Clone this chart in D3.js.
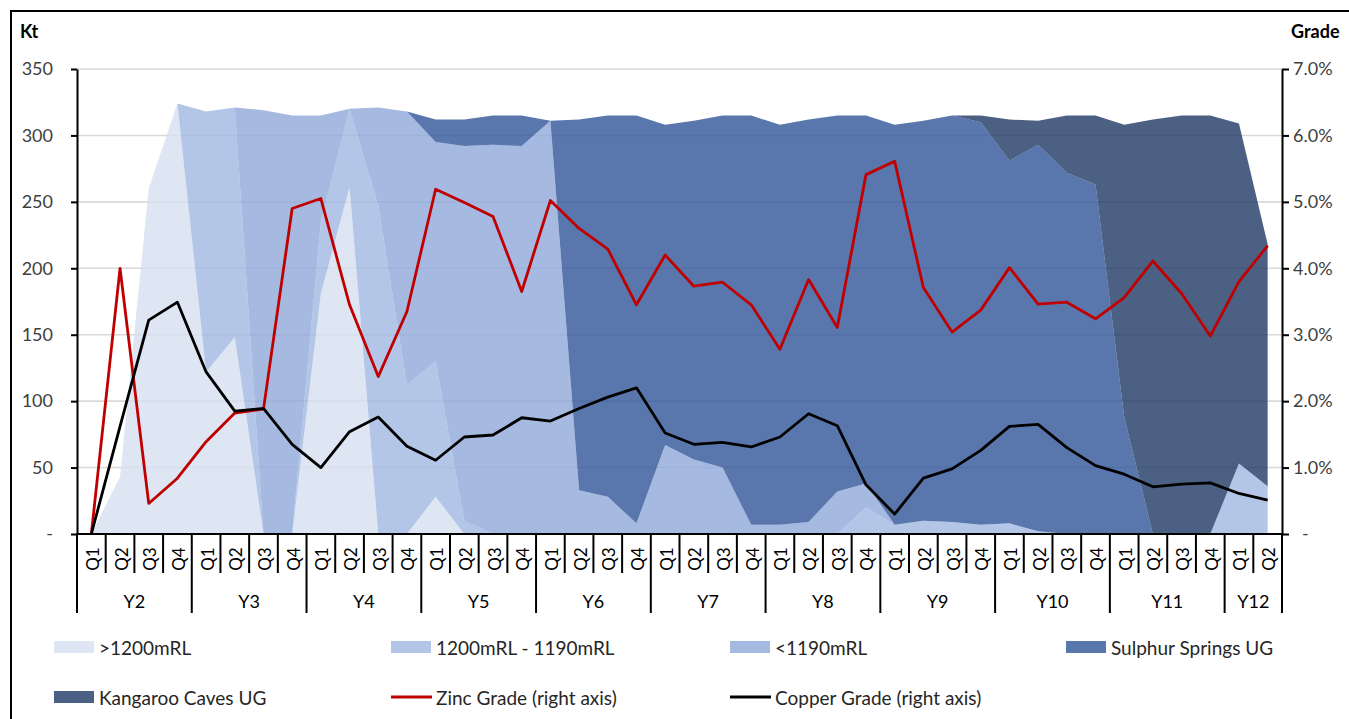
<!DOCTYPE html>
<html><head><meta charset="utf-8">
<script src="https://cdn.jsdelivr.net/npm/d3@7"></script>
<style>
html,body{margin:0;padding:0;background:#fff;}
svg{display:block;font-family:Lato,"Open Sans",sans-serif;}
</style>
</head><body>
<svg id="chart" width="1349" height="719"></svg>
<script>
// ---------- DATA ----------
const quarterLabels = ["Q1","Q2","Q3","Q4","Q1","Q2","Q3","Q4","Q1","Q2","Q3","Q4",
  "Q1","Q2","Q3","Q4","Q1","Q2","Q3","Q4","Q1","Q2","Q3","Q4","Q1","Q2","Q3","Q4",
  "Q1","Q2","Q3","Q4","Q1","Q2","Q3","Q4","Q1","Q2","Q3","Q4","Q1","Q2"];
const yearLabels = ["Y2","Y3","Y4","Y5","Y6","Y7","Y8","Y9","Y10","Y11","Y12"];
const yearQuarterCounts = [4,4,4,4,4,4,4,4,4,4,2];

// Kt series (stacked areas, bottom to top)
const above1200 = [0,43,260,324,122,148,0,0,181,261,0,0,28,0,0,0,0,0,0,0,0,0,0,0,0,0,0,0,0,0,0,0,0,0,0,0,0,0,0,0,0,0];
const between1200_1190 = [0,0,0,0,196,173,0,0,54,59,247,112,102,10,0,0,0,0,0,0,0,0,0,0,0,0,0,20,7,10,9,7,8,2,0,0,0,0,0,0,53,36];
const below1190 = [0,0,0,0,0,0,319,315,80,0,74,206,165,282,293,292,311,33,28,8,67,56,50,7,7,9,32,18,0,0,0,0,0,0,0,0,0,0,0,0,0,0];
const sulphurSprings = [0,0,0,0,0,0,0,0,0,0,0,0,17,20,22,23,0,279,287,307,241,255,265,308,301,303,283,277,301,301,306,303,273,291,272,263,88,0,0,0,0,0];
const kangarooCaves = [0,0,0,0,0,0,0,0,0,0,0,0,0,0,0,0,0,0,0,0,0,0,0,0,0,0,0,0,0,0,0,5,31,18,43,52,220,312,315,315,256,182];

// Grades (%), right axis
const zincGrade = [0,4.00,0.46,0.84,1.39,1.82,1.88,4.90,5.05,3.45,2.37,3.35,5.19,4.99,4.78,3.65,5.02,4.60,4.29,3.45,4.20,3.73,3.79,3.45,2.78,3.83,3.11,5.41,5.61,3.71,3.04,3.37,4.01,3.46,3.49,3.24,3.56,4.11,3.62,2.98,3.80,4.34];
const copperGrade = [0,1.62,3.22,3.49,2.44,1.85,1.89,1.35,1.00,1.54,1.76,1.32,1.11,1.46,1.49,1.75,1.70,1.89,2.06,2.20,1.52,1.35,1.38,1.31,1.46,1.81,1.63,0.74,0.30,0.84,0.98,1.26,1.62,1.65,1.30,1.03,0.90,0.71,0.75,0.77,0.61,0.51];

const ktTicks = [0,50,100,150,200,250,300,350];
const gradeTicks = [0,1,2,3,4,5,6,7];

const seriesNames = [">1200mRL","1200mRL - 1190mRL","<1190mRL","Sulphur Springs UG","Kangaroo Caves UG"];
const seriesColors = ["#D6E0F0","#A1B8E1","#8FA8D9","#2F5597","#1F3864"];
const lineNames = ["Zinc Grade (right axis)","Copper Grade (right axis)"];
const lineColors = ["#C00000","#000000"];

// ---------- CHART ----------
const svg = d3.select("#chart");
const L = 77, R = 1282, T = 69, B = 534;
const n = quarterLabels.length;

const x = d3.scaleBand().domain(d3.range(n)).range([L, R]).padding(0);
const bw = x.bandwidth();
const cx = i => x(i) + bw / 2;
const yL = d3.scaleLinear().domain([0, 350]).range([B, T]);
const yR = d3.scaleLinear().domain([0, 7]).range([B, T]);

// outer frame
svg.append("rect").attr("x", 11).attr("y", 11).attr("width", 1360).attr("height", 730)
  .attr("fill", "none").attr("stroke", "#000").attr("stroke-width", 2);

// gridlines
svg.append("g").selectAll("line").data(ktTicks.filter(d => d > 0)).join("line")
  .attr("x1", L).attr("x2", R).attr("y1", d => yL(d)).attr("y2", d => yL(d))
  .attr("stroke", "#d9d9d9").attr("stroke-width", 1.6);

// stacked areas
const table = d3.range(n).map(i => ({
  i,
  [seriesNames[0]]: above1200[i],
  [seriesNames[1]]: between1200_1190[i],
  [seriesNames[2]]: below1190[i],
  [seriesNames[3]]: sulphurSprings[i],
  [seriesNames[4]]: kangarooCaves[i]
}));
const stacked = d3.stack().keys(seriesNames)(table);
const area = d3.area().x(d => cx(d.data.i)).y0(d => yL(d[0])).y1(d => yL(d[1]));
svg.append("g").selectAll("path").data(stacked).join("path")
  .attr("d", area).attr("fill", (d, k) => seriesColors[k]).attr("fill-opacity", 0.8);

// lines
const line = d3.line().x((d, i) => cx(i)).y(d => yR(d));
[zincGrade, copperGrade].forEach((arr, k) => {
  svg.append("path").datum(arr).attr("d", line).attr("fill", "none")
    .attr("stroke", lineColors[k]).attr("stroke-width", 2.8).attr("stroke-linejoin", "round");
});

// left axis
const axL = svg.append("g").attr("transform", `translate(${L},0)`)
  .call(d3.axisLeft(yL).tickValues(ktTicks).tickSize(6).tickSizeOuter(0).tickPadding(18)
    .tickFormat(d => d === 0 ? "-" : d));
// right axis
const axR = svg.append("g").attr("transform", `translate(${R},0)`)
  .call(d3.axisRight(yR).tickValues(gradeTicks).tickSize(7).tickSizeOuter(0).tickPadding(4)
    .tickFormat(d => d === 0 ? "-" : d.toFixed(1) + "%"));
[axL, axR].forEach(ax => {
  ax.select(".domain").attr("stroke", "#000").attr("stroke-width", 2);
  ax.selectAll(".tick line").attr("stroke", "#000").attr("stroke-width", 2);
  ax.selectAll(".tick text").attr("fill", "#404040").attr("font-size", 18)
    .attr("font-family", "Lato, 'Open Sans', sans-serif");
});
axR.selectAll(".tick text").filter(d => d === 0).attr("x", 20);

// axis titles
svg.append("text").attr("x", 20).attr("y", 38).attr("font-size", 18).attr("font-weight", "bold")
  .attr("fill", "#000").text("Kt");
svg.append("text").attr("x", 1291).attr("y", 38).attr("font-size", 18).attr("font-weight", "bold")
  .attr("fill", "#000").text("Grade");

// category axis
const gx = svg.append("g");
gx.append("line").attr("x1", L - 1).attr("x2", R + 1).attr("y1", B).attr("y2", B)
  .attr("stroke", "#000").attr("stroke-width", 2);
const yearBounds = [0];
yearQuarterCounts.forEach(c => yearBounds.push(yearBounds[yearBounds.length - 1] + c));
gx.selectAll("line.sep").data(d3.range(n + 1)).join("line").attr("class", "sep")
  .attr("x1", k => k < n ? x(k) : R).attr("x2", k => k < n ? x(k) : R)
  .attr("y1", B).attr("y2", k => yearBounds.includes(k) ? 613 : 573)
  .attr("stroke", "#000").attr("stroke-width", 2);
gx.selectAll("text.q").data(quarterLabels).join("text").attr("class", "q")
  .attr("transform", (d, i) => `translate(${cx(i) + 1},559) rotate(-90)`)
  .attr("text-anchor", "middle").attr("dominant-baseline", "central")
  .attr("font-size", 17).attr("fill", "#000").text(d => d);
gx.selectAll("text.y").data(yearLabels).join("text").attr("class", "y")
  .attr("x", (d, k) => (x(yearBounds[k]) + (yearBounds[k + 1] < n ? x(yearBounds[k + 1]) : R)) / 2)
  .attr("y", 601).attr("text-anchor", "middle").attr("dominant-baseline", "central")
  .attr("font-size", 18).attr("fill", "#000").text(d => d);

// legend
const legendItems = [
  {name: seriesNames[0], color: seriesColors[0], type: "area", x: 54, y: 647},
  {name: seriesNames[1], color: seriesColors[1], type: "area", x: 391, y: 647},
  {name: seriesNames[2], color: seriesColors[2], type: "area", x: 730, y: 647},
  {name: seriesNames[3], color: seriesColors[3], type: "area", x: 1066, y: 647},
  {name: seriesNames[4], color: seriesColors[4], type: "area", x: 54, y: 697},
  {name: lineNames[0], color: lineColors[0], type: "line", x: 391, y: 697},
  {name: lineNames[1], color: lineColors[1], type: "line", x: 730, y: 697}
];
const lg = svg.append("g").selectAll("g").data(legendItems).join("g");
lg.filter(d => d.type === "area").append("rect")
  .attr("x", d => d.x).attr("y", d => d.y - 6).attr("width", 40).attr("height", 12)
  .attr("fill", d => d.color).attr("fill-opacity", 0.8);
lg.filter(d => d.type === "line").append("line")
  .attr("x1", d => d.x).attr("x2", d => d.x + 41).attr("y1", d => d.y).attr("y2", d => d.y)
  .attr("stroke", d => d.color).attr("stroke-width", 3);
lg.append("text").attr("x", d => d.x + 45).attr("y", d => d.y)
  .attr("dominant-baseline", "central").attr("font-size", 19).attr("fill", "#262626")
  .text(d => d.name);
</script>
</body></html>
